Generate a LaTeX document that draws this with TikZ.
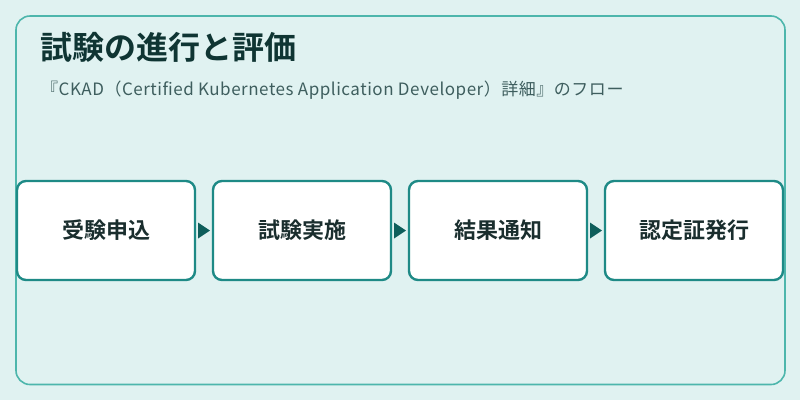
\documentclass[tikz,border=0pt]{standalone}
\usepackage{fontspec}
\setmainfont{Noto Sans CJK JP}[BoldFont={Noto Sans CJK JP Bold}]
\definecolor{bgc}{HTML}{E0F2F1}
\definecolor{outerc}{HTML}{4DB6AC}
\definecolor{boxc}{HTML}{1E8A86}
\definecolor{arrc}{HTML}{0E5E5B}
\definecolor{titlec}{HTML}{0F3533}
\definecolor{subc}{HTML}{3E5E5E}
\definecolor{textc}{HTML}{1A2E2E}
\begin{document}
\begin{tikzpicture}[x=1pt,y=-1pt,
  stepbox/.style={draw=boxc,line width=2.4pt,fill=white,rounded corners=9pt,
    minimum width=178pt,minimum height=99pt,inner sep=0pt,
    font=\fontsize{22}{26}\selectfont\bfseries,text=textc},
  tri/.style={fill=arrc,draw=none}]
\useasboundingbox (0,0) rectangle (800,400);
\fill[bgc] (0,0) rectangle (800,400);
\draw[outerc,line width=1.6pt,rounded corners=14pt] (16,16) rectangle (785,384.5);
\node[anchor=west,inner sep=0pt,text=titlec,font=\fontsize{32}{36}\selectfont\bfseries] (title) at (40,47) {試験の進行と評価};
\node[anchor=west,inner sep=0pt,text=subc,font=\fontsize{17}{20}\selectfont\addfontfeature{LetterSpace=3.1}] (sub) at (41,90) {『CKAD（Certified Kubernetes Application Developer）詳細』のフロー};
\node[stepbox] (s1) at (106,230.5) {受験申込};
\node[stepbox] (s2) at (302,230.5) {試験実施};
\node[stepbox] (s3) at (498,230.5) {結果通知};
\node[stepbox] (s4) at (694,230.5) {認定証発行};
\foreach \a/\b in {s1/s2,s2/s3,s3/s4}{
  \path (\a.east) -- (\b.west) coordinate[pos=0.5] (m\a);
  \fill[tri] ([xshift=-6pt,yshift=-8pt]m\a) -- ([xshift=6pt]m\a) -- ([xshift=-6pt,yshift=8pt]m\a) -- cycle;
}
\end{tikzpicture}
\end{document}
